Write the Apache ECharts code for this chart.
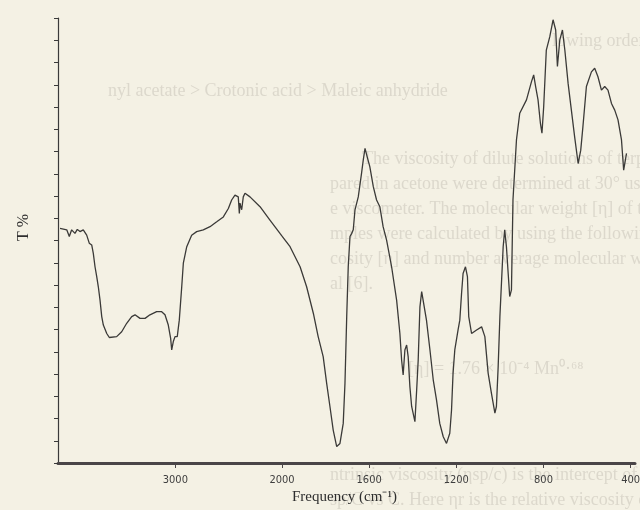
<!DOCTYPE html>
<html>
<head>
<meta charset="utf-8">
<script src="https://cdn.jsdelivr.net/npm/echarts@6/dist/echarts.min.js"></script>
<style>
  html, body { margin: 0; padding: 0; background: #f4f1e4; }
  #chart { width: 640px; height: 510px; }
</style>
</head>
<body>
<div id="chart"></div>
<script>
// high frequency part of the spectrum (4100 - 2000 cm-1), own axis scale
const freqHigh = [4081, 4018, 3994, 3972, 3941, 3919, 3894, 3863, 3831, 3807, 3784, 3769, 3753, 3737,
    3722, 3706, 3690, 3675, 3643, 3619, 3550, 3503, 3456, 3409, 3378, 3331, 3284, 3238, 3175, 3128,
    3097, 3066, 3044, 3034, 3019, 3003, 2982, 2963, 2940, 2925, 2893, 2847, 2800, 2738, 2675, 2612,
    2550, 2503, 2472, 2441, 2410, 2400, 2394, 2378, 2363, 2347, 2300, 2206, 2113, 2019, 2000];
const transHigh = [52.7, 52.4, 50.9, 52.4, 51.6, 52.5, 52.0, 52.4, 51.2, 49.4, 49.0, 47.1, 44.1, 41.9,
    39.6, 36.6, 32.9, 31.0, 29.1, 28.2, 28.4, 29.5, 31.4, 32.9, 33.3, 32.5, 32.5, 33.3, 34.0, 34.0,
    33.3, 31.0, 28.0, 25.4, 27.3, 28.4, 28.4, 32.1, 39.6, 44.9, 48.6, 51.2, 52.0, 52.4, 53.1, 54.2,
    55.3, 57.2, 59.1, 60.2, 59.8, 56.1, 58.4, 56.9, 59.8, 60.6, 59.8, 57.6, 54.6, 51.6, 51.0];

// low frequency part (2000 - 400 cm-1), expanded scale
const freqLow = [2000, 1963, 1917, 1887, 1856, 1834, 1811, 1795, 1780, 1765, 1749, 1734, 1719, 1711,
    1703, 1696, 1688, 1680, 1673, 1665, 1650, 1635, 1627, 1619, 1609, 1597, 1581, 1566, 1551, 1536,
    1520, 1497, 1474, 1459, 1451, 1444, 1436, 1428, 1421, 1413, 1405, 1390, 1382, 1375, 1367, 1359,
    1352, 1337, 1321, 1306, 1291, 1276, 1260, 1245, 1230, 1222, 1215, 1207, 1192, 1184, 1176, 1169,
    1158, 1149, 1143, 1130, 1107, 1084, 1069, 1054, 1039, 1023, 1016, 1008, 1000, 985, 978, 970,
    962, 955, 947, 940, 924, 909, 878, 855, 845, 836, 825, 814, 807, 799, 787, 771, 756, 744, 736,
    725, 713, 702, 687, 672, 657, 641, 629, 619, 603, 580, 565, 550, 534, 519, 504, 488, 473, 458,
    442, 432, 419];
const transLow = [51.0, 48.6, 44.1, 39.6, 33.6, 28.4, 23.9, 17.9, 12.7, 7.4, 3.7, 4.4, 8.9, 17.9,
    32.9, 44.1, 50.9, 51.6, 52.4, 56.9, 59.8, 65.1, 68.1, 70.7, 68.8, 66.6, 62.1, 59.1, 57.6, 53.1,
    50.1, 44.1, 36.6, 29.1, 23.1, 19.8, 25.4, 26.5, 23.9, 17.1, 12.7, 9.3, 16.4, 23.1, 35.1, 38.5,
    38.1, 32.1, 25.4, 18.7, 14.2, 8.9, 5.9, 4.4, 6.7, 11.9, 20.2, 25.4, 29.9, 32.1, 38.1, 42.6,
    44.1, 41.9, 32.9, 29.1, 29.9, 30.6, 28.4, 20.2, 15.7, 11.2, 12.7, 21.6, 32.9, 48.6, 52.4, 48.6,
    42.6, 37.4, 38.9, 59.1, 72.6, 78.6, 81.6, 85.7, 87.2, 84.6, 81.6, 76.3, 74.1, 80.1, 92.8, 95.8,
    99.6, 97.3, 89.1, 95.1, 97.3, 92.8, 85.3, 79.3, 73.3, 67.3, 70.3, 75.6, 84.6, 87.9, 88.7, 86.8,
    83.8, 84.6, 83.8, 80.8, 79.3, 77.1, 72.6, 65.8, 69.6];

const ticksHigh = [3000];
const ticksLow = [2000, 1600, 1200, 800, 400];

// faint text showing through from the other side of the page
const showThrough = [
    ['lowing order:', 552, 32],
    ['nyl acetate > Crotonic acid > Maleic anhydride', 108, 82],
    ['The viscosity of dilute solutions of terpolymer samples', 362, 150],
    ['pared in acetone were determined at 30\u00b0 using Ostwald', 330, 175],
    ['e viscometer. The molecular weight [\u03b7] of terpolymer', 330, 200],
    ['mples were calculated by using the following intrinsic', 330, 225],
    ['cosity [\u03b7] and number average molecular weight expres-', 330, 250],
    ['al [6].', 330, 275],
    ['[\u03b7] = 1.76 \u00d7 10\u207b\u2074 Mn\u2070\u00b7\u2076\u2078', 408, 360],
    ['ntrinsic viscosity (\u03b7sp/c) is the intercept of the plot', 330, 466],
    ['sp/C vs C. Here \u03b7r is the relative viscosity of terpolymer', 330, 491]
];

const ink = '#3b3a38';
const axisFont = "'Liberation Sans Narrow', 'DejaVu Sans Condensed', sans-serif";

const chart = echarts.init(document.getElementById('chart'), null, { renderer: 'canvas' });

const xCommon = (min, max, ticks, grid) => ({
    type: 'value',
    gridIndex: grid,
    min: min,
    max: max,
    inverse: true,
    splitLine: { show: false },
    axisLine: { onZero: false, lineStyle: { color: '#4a4547', width: 3 } },
    axisTick: { customValues: ticks, length: 5, lineStyle: { color: '#4a4547', width: 1 } },
    axisLabel: {
        customValues: ticks, margin: 12, color: '#3e3e3e', fontSize: 11, fontFamily: axisFont,
        formatter: v => String(v)
    }
});

const option = {
    backgroundColor: '#f4f1e4',
    animation: false,
    graphic: [
        ...showThrough.map(t => ({
            type: 'text', left: t[1], top: t[2], z: -1, silent: true,
            style: { text: t[0], fill: '#dcd8cc', font: "18px 'Liberation Serif', serif" }
        })),
        {
            type: 'text', left: 292, top: 490,
            style: { text: 'Frequency (cm\u207b\u00b9)', fill: '#2e2e2e', font: "15px 'Liberation Serif', serif" }
        },
        {
            type: 'text', left: 16, top: 214, rotation: Math.PI / 2,
            style: { text: 'T %', fill: '#2e2e2e', font: "16px 'Liberation Serif', serif" }
        }
    ],
    grid: [
        { left: 58, top: 18, width: 224, height: 445, containLabel: false, outerBoundsMode: 'none' },
        { left: 282, top: 18, width: 353, height: 445, containLabel: false, outerBoundsMode: 'none' }
    ],
    xAxis: [
        xCommon(2000, 4100, ticksHigh, 0),
        xCommon(380, 2000, ticksLow, 1)
    ],
    yAxis: [
        {
            type: 'value', gridIndex: 0, min: 0, max: 100, interval: 5,
            axisLine: { show: true, lineStyle: { color: '#3a3a3a', width: 1.2 } },
            axisTick: { show: true, length: 4, lineStyle: { color: '#3a3a3a' } },
            axisLabel: { show: false },
            splitLine: { show: false }
        },
        { type: 'value', gridIndex: 1, min: 0, max: 100, show: false }
    ],
    series: [
        {
            type: 'line', xAxisIndex: 0, yAxisIndex: 0, showSymbol: false,
            lineStyle: { color: ink, width: 1.3 },
            data: freqHigh.map((f, i) => [f, transHigh[i]])
        },
        {
            type: 'line', xAxisIndex: 1, yAxisIndex: 1, showSymbol: false,
            lineStyle: { color: ink, width: 1.3 },
            data: freqLow.map((f, i) => [f, transLow[i]])
        }
    ]
};

chart.setOption(option);
</script>
</body>
</html>
